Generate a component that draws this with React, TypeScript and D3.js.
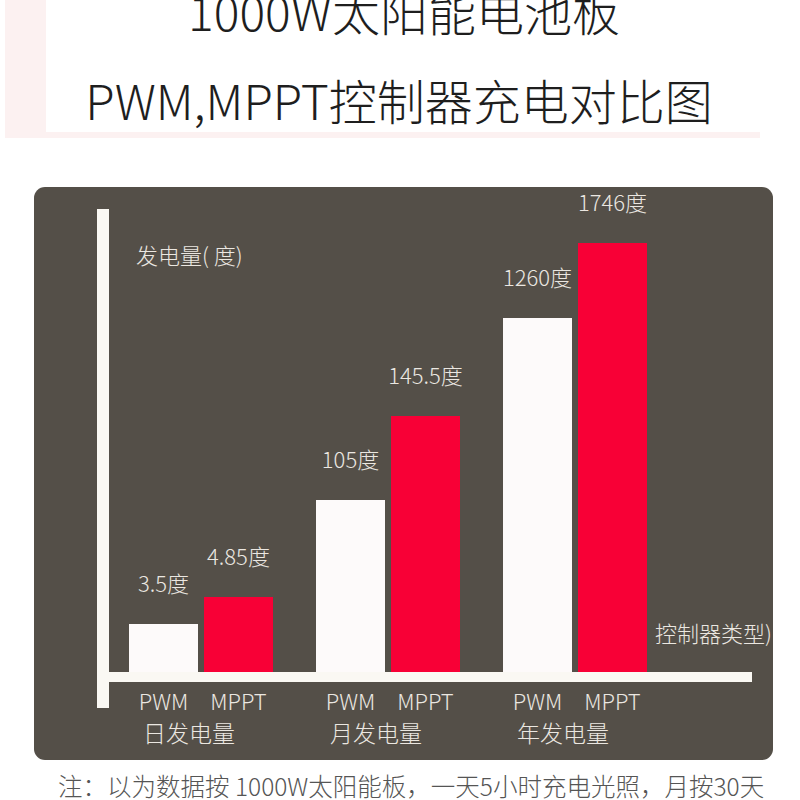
import React from "react";
import * as d3 from "d3";

const groups = ["日发电量", "月发电量", "年发电量"];
const series = ["PWM", "MPPT"];
const pwmValues = [3.5, 105, 1260];
const mpptValues = [4.85, 145.5, 1746];
// pictorial bar heights as drawn in the infographic (not proportional to values)
const pwmLevels = [48, 172, 354];
const mpptLevels = [75, 256, 429];
const unit = "度";
const yTitle = "发电量( 度)";
const xTitle = "控制器类型)";
const title1 = "1000W太阳能电池板";
const title2 = "PWM,MPPT控制器充电对比图";
const footnote = "注：以为数据按 1000W太阳能板，一天5小时充电光照，月按30天";

const FONT = "'Noto Sans CJK SC Light', 'Noto Sans CJK SC DemiLight', 'Noto Sans CJK SC', 'Noto Sans', sans-serif";
const LIGHT = "#ebe7e1";
const RED = "#f80036";
const WHITE_BAR = "#fdfafa";
const PANEL = "#544f48";

export default function App() {
  const baseY = 672;
  const y = d3.scaleLinear().domain([0, 450]).range([baseY, baseY - 450]);
  const x0 = d3.scaleBand<string>().domain(groups).range([129, 647]).paddingInner(0.23).paddingOuter(0);
  const x1 = d3.scaleBand<string>().domain(series).range([0, x0.bandwidth()]).paddingInner(0.08);

  const bars = groups.flatMap((g, i) => [
    { g, s: "PWM", v: pwmValues[i], lvl: pwmLevels[i], color: WHITE_BAR },
    { g, s: "MPPT", v: mpptValues[i], lvl: mpptLevels[i], color: RED },
  ]);

  return (
    <div style={{ position: "absolute", left: 0, top: 0, width: 800, height: 800, background: "#fff" }}>
      <svg width={800} height={800} style={{ display: "block", fontFamily: FONT }}>
        {/* title area */}
        <rect x={5} y={0} width={755} height={138} fill="#fcf1f1" />
        <rect x={46} y={0} width={714} height={132} fill="#ffffff" />
        <text x={404} y={31} textAnchor="middle" fontSize={48} fontWeight={300} fill="#1e1e1e">{title1}</text>
        <text x={399} y={120} textAnchor="middle" fontSize={48} fontWeight={300} fill="#1e1e1e">{title2}</text>

        {/* chart panel */}
        <rect x={34} y={187} width={739} height={573} rx={11} fill={PANEL} />

        {bars.map((b) => {
          const bx = (x0(b.g) ?? 0) + (x1(b.s) ?? 0);
          return (
            <rect key={b.g + b.s} x={bx} y={y(b.lvl)} width={x1.bandwidth()} height={baseY - y(b.lvl)} fill={b.color} />
          );
        })}

        {bars.map((b) => {
          const cx = (x0(b.g) ?? 0) + (x1(b.s) ?? 0) + x1.bandwidth() / 2;
          return (
            <text key={"l" + b.g + b.s} x={cx} y={y(b.lvl) - 32} textAnchor="middle" fontSize={22} fontWeight={300} fill={LIGHT}>
              {b.v + unit}
            </text>
          );
        })}

        {/* axes */}
        <rect x={97} y={209} width={12} height={499} fill="#faf8f3" />
        <rect x={109} y={baseY} width={643} height={10} fill="#faf8f3" />

        <text x={136} y={264} fontSize={22} fontWeight={300} fill={LIGHT}>{yTitle}</text>
        <text x={655} y={642} fontSize={22} fontWeight={300} fill={LIGHT}>{xTitle}</text>

        {bars.map((b) => {
          const cx = (x0(b.g) ?? 0) + (x1(b.s) ?? 0) + x1.bandwidth() / 2;
          return (
            <text key={"t" + b.g + b.s} x={cx} y={710} textAnchor="middle" fontSize={22} fontWeight={300} fill={LIGHT}>
              {b.s}
            </text>
          );
        })}
        {groups.map((g) => (
          <text key={"g" + g} x={(x0(g) ?? 0) + x0.bandwidth() / 2 - 12} y={742} textAnchor="middle" fontSize={23} fontWeight={300} fill={LIGHT}>
            {g}
          </text>
        ))}

        <text x={58} y={796} fontSize={24.5} fontWeight={300} fill="#555">{footnote}</text>
      </svg>
    </div>
  );
}
